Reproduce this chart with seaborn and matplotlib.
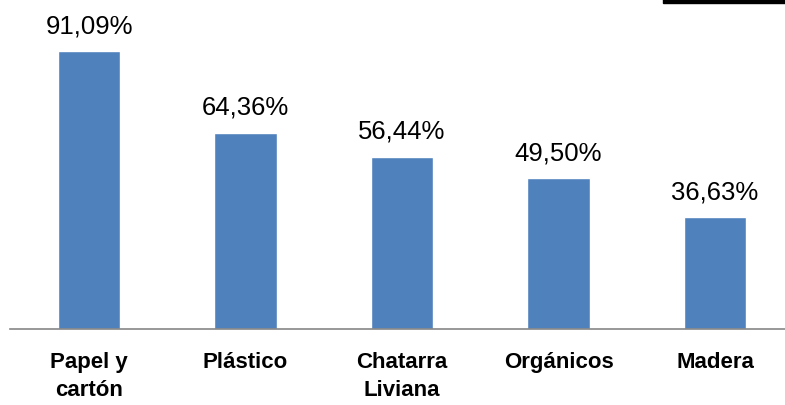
import matplotlib
matplotlib.use("Agg")
import matplotlib.pyplot as plt
import matplotlib.patches as mpatches
import seaborn as sns
import pandas as pd

# ----------------------------------------
# data
# ----------------------------------------
categorias = ["Papel y\ncartón", "Plástico", "Chatarra\nLiviana", "Orgánicos", "Madera"]
porcentajes = [91.09, 64.36, 56.44, 49.50, 36.63]
etiquetas = ["91,09%", "64,36%", "56,44%", "49,50%", "36,63%"]

df = pd.DataFrame({"categoria": categorias, "pct": porcentajes})

sns.set_theme(style="white")
plt.rcParams["font.family"] = ["Liberation Sans", "DejaVu Sans"]

fig = plt.figure(figsize=(7.85, 4.06), dpi=100)
ax = fig.add_axes([10 / 785, 76 / 406, 775 / 785, 330 / 406])

sns.barplot(data=df, x="categoria", y="pct", color="#4F81BD", saturation=1,
            width=0.4, ax=ax)

ax.set_xlim(-0.505, 4.447)
ax.set_ylim(0, 108.3)

for i, (v, lab) in enumerate(zip(porcentajes, etiquetas)):
    ax.annotate(lab, (i, v), xytext=(0, 13.7), textcoords="offset points",
                ha="center", va="baseline", fontsize=18.5, color="black")

for s in ["top", "right", "left"]:
    ax.spines[s].set_visible(False)
ax.spines["bottom"].set_color("#868686")
ax.spines["bottom"].set_linewidth(1.2)

ax.set_yticks([])
ax.set_xlabel("")
ax.set_ylabel("")
ax.tick_params(axis="x", length=0, pad=16, colors="black")
for t in ax.get_xticklabels():
    t.set_fontweight("bold")
    t.set_fontsize(16)
    t.set_linespacing(1.45)

# black bar cut off at the top right corner
fig.patches.append(mpatches.Rectangle((663 / 785, 1 - 4 / 406), 122 / 785, 4 / 406,
                                      transform=fig.transFigure, color="black",
                                      zorder=5))

fig.savefig("out.png", dpi=100)
